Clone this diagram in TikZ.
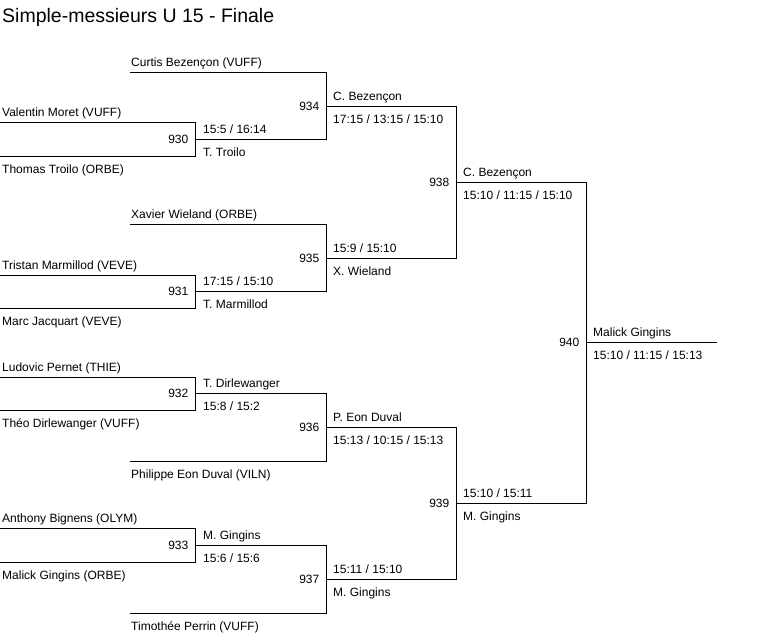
\documentclass[tikz,border=0pt]{standalone}
\usepackage{fontspec}
\setmainfont{Liberation Sans}
\begin{document}
\begin{tikzpicture}[x=1pt,y=-1pt,
  wire/.style={draw=black, line width=1pt, line join=miter},
  lbl/.style={anchor=base west, inner sep=0pt, font=\fontsize{12}{14}\selectfont},
  num/.style={anchor=base east, inner sep=0pt, font=\fontsize{12}{14}\selectfont},
  ttl/.style={anchor=base west, inner sep=0pt, font=\fontsize{19.5}{22}\selectfont}]
\useasboundingbox[fill=white] (0,0) rectangle (783,640);

\node[ttl] (title) at (2,22.7) {Simple-messieurs U 15 - Finale};

% entrants
\coordinate (eMoret) at (0,122.5);
\coordinate (eTroilo) at (0,156.5);
\coordinate (eMarmillod) at (0,275.5);
\coordinate (eJacquart) at (0,308.5);
\coordinate (ePernet) at (0,377.5);
\coordinate (eDirlewanger) at (0,410.5);
\coordinate (eBignens) at (0,528.5);
\coordinate (eGingins) at (0,562.5);
\coordinate (eBezencon) at (130,72.5);
\coordinate (eWieland) at (130,224.5);
\coordinate (eEonDuval) at (130,461.5);
\coordinate (ePerrin) at (130,613.5);

% match points (t = top, b = bottom, w = winner)
\coordinate (m930t) at (195.5,122.5); \coordinate (m930b) at (195.5,156.5); \coordinate (m930w) at (195.5,139.5);
\coordinate (m931t) at (195.5,275.5); \coordinate (m931b) at (195.5,308.5); \coordinate (m931w) at (195.5,291.5);
\coordinate (m932t) at (195.5,377.5); \coordinate (m932b) at (195.5,410.5); \coordinate (m932w) at (195.5,393.5);
\coordinate (m933t) at (195.5,528.5); \coordinate (m933b) at (195.5,562.5); \coordinate (m933w) at (195.5,545.5);
\coordinate (m934t) at (326.5,72.5);  \coordinate (m934b) at (326.5,139.5); \coordinate (m934w) at (326.5,106.5);
\coordinate (m935t) at (326.5,224.5); \coordinate (m935b) at (326.5,291.5); \coordinate (m935w) at (326.5,258.5);
\coordinate (m936t) at (326.5,393.5); \coordinate (m936b) at (326.5,461.5); \coordinate (m936w) at (326.5,427.5);
\coordinate (m937t) at (326.5,545.5); \coordinate (m937b) at (326.5,613.5); \coordinate (m937w) at (326.5,579.5);
\coordinate (m938t) at (456.5,106.5); \coordinate (m938b) at (456.5,258.5); \coordinate (m938w) at (456.5,182.5);
\coordinate (m939t) at (456.5,427.5); \coordinate (m939b) at (456.5,579.5); \coordinate (m939w) at (456.5,503.5);
\coordinate (m940t) at (586.5,182.5); \coordinate (m940b) at (586.5,503.5); \coordinate (m940w) at (586.5,342.5);
\coordinate (champ) at (717,342.5);

% bracket lines
\draw[wire] (eMoret) -- (m930t) -- (m930b) -- (eTroilo);
\draw[wire] (eMarmillod) -- (m931t) -- (m931b) -- (eJacquart);
\draw[wire] (ePernet) -- (m932t) -- (m932b) -- (eDirlewanger);
\draw[wire] (eBignens) -- (m933t) -- (m933b) -- (eGingins);
\draw[wire] (eBezencon) -- (m934t) -- (m934b) -- (m930w);
\draw[wire] (eWieland) -- (m935t) -- (m935b) -- (m931w);
\draw[wire] (m932w) -- (m936t) -- (m936b) -- (eEonDuval);
\draw[wire] (m933w) -- (m937t) -- (m937b) -- (ePerrin);
\draw[wire] (m934w) -- (m938t) -- (m938b) -- (m935w);
\draw[wire] (m936w) -- (m939t) -- (m939b) -- (m937w);
\draw[wire] (m938w) -- (m940t) -- (m940b) -- (m939w);
\draw[wire] (m940w) -- (champ);

% entrant names
\node[lbl] (nMoret) at (2,116.5) {Valentin Moret (VUFF)};
\node[lbl] (nTroilo) at (2,173) {Thomas Troilo (ORBE)};
\node[lbl] (nMarmillod) at (2,269.5) {Tristan Marmillod (VEVE)};
\node[lbl] (nJacquart) at (2,325) {Marc Jacquart (VEVE)};
\node[lbl] (nPernet) at (2,371.5) {Ludovic Pernet (THIE)};
\node[lbl] (nDirlewanger) at (2,427) {Théo Dirlewanger (VUFF)};
\node[lbl] (nBignens) at (2,522.5) {Anthony Bignens (OLYM)};
\node[lbl] (nGingins) at (2,579) {Malick Gingins (ORBE)};
\node[lbl] (nBezencon) at (131,66.5) {Curtis Bezençon (VUFF)};
\node[lbl] (nWieland) at (131,218.5) {Xavier Wieland (ORBE)};
\node[lbl] (nEonDuval) at (131,478) {Philippe Eon Duval (VILN)};
\node[lbl] (nPerrin) at (131,630) {Timothée Perrin (VUFF)};

% match numbers
\node[num] (k930) at (188.5,143.8) {930};
\node[num] (k931) at (188.5,295.8) {931};
\node[num] (k932) at (188.5,397.8) {932};
\node[num] (k933) at (188.5,549.8) {933};
\node[num] (k934) at (319.5,110.8) {934};
\node[num] (k935) at (319.5,262.8) {935};
\node[num] (k936) at (319.5,431.8) {936};
\node[num] (k937) at (319.5,583.8) {937};
\node[num] (k938) at (449.5,186.8) {938};
\node[num] (k939) at (449.5,507.8) {939};
\node[num] (k940) at (579.5,346.8) {940};

% results above / below winner lines
\node[lbl] (a930) at (203,133) {15:5 / 16:14};
\node[lbl] (b930) at (203,156.5) {T. Troilo};
\node[lbl] (a931) at (203,285) {17:15 / 15:10};
\node[lbl] (b931) at (203,308.5) {T. Marmillod};
\node[lbl] (a932) at (203,387) {T. Dirlewanger};
\node[lbl] (b932) at (203,410.5) {15:8 / 15:2};
\node[lbl] (a933) at (203,539) {M. Gingins};
\node[lbl] (b933) at (203,562.5) {15:6 / 15:6};
\node[lbl] (a934) at (333,100) {C. Bezençon};
\node[lbl] (b934) at (333,123.5) {17:15 / 13:15 / 15:10};
\node[lbl] (a935) at (333,252) {15:9 / 15:10};
\node[lbl] (b935) at (333,275.5) {X. Wieland};
\node[lbl] (a936) at (333,421) {P. Eon Duval};
\node[lbl] (b936) at (333,444.5) {15:13 / 10:15 / 15:13};
\node[lbl] (a937) at (333,573) {15:11 / 15:10};
\node[lbl] (b937) at (333,596.5) {M. Gingins};
\node[lbl] (a938) at (463,176) {C. Bezençon};
\node[lbl] (b938) at (463,199.5) {15:10 / 11:15 / 15:10};
\node[lbl] (a939) at (463,497) {15:10 / 15:11};
\node[lbl] (b939) at (463,520.5) {M. Gingins};
\node[lbl] (a940) at (593,336) {Malick Gingins};
\node[lbl] (b940) at (593,359.5) {15:10 / 11:15 / 15:13};
\end{tikzpicture}
\end{document}
